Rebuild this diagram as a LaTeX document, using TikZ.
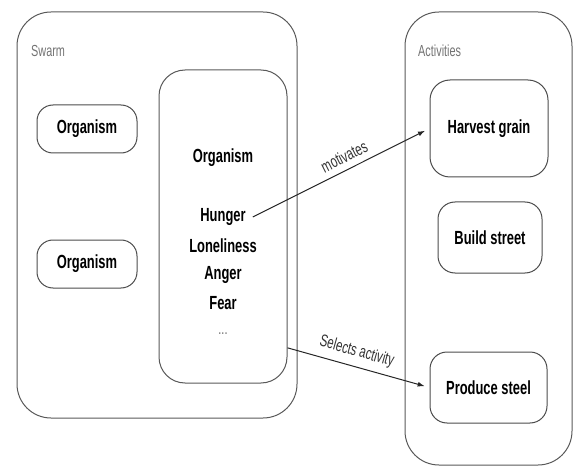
\documentclass[tikz,border=0pt]{standalone}
\usepackage{fontspec}
\setmainfont{Liberation Sans}[FakeStretch=0.68]
\usetikzlibrary{arrows, arrows.meta}

\tikzset{
  group/.style={draw=black!65, line width=1pt, rounded corners=34pt, inner sep=0pt},
  actbox/.style={draw=black!70, line width=1pt, rounded corners=20pt, inner sep=0pt,
    font=\fontsize{19}{21}\selectfont\bfseries},
  orgbox/.style={draw=black!70, line width=1pt, rounded corners=16pt, inner sep=0pt,
    font=\fontsize{19}{21}\selectfont\bfseries},
  need/.style={font=\fontsize{19}{21}\selectfont\bfseries, inner sep=1pt},
  grouplabel/.style={anchor=west, text=black!55, font=\fontsize{16}{18}\selectfont, inner sep=0pt},
  link/.style={draw=black!85, line width=1pt, -{Latex[length=7pt,width=5pt]}, shorten >=5pt},
  linklabel/.style={font=\fontsize{17}{19}\selectfont, text=black!80, sloped, above=3pt}
}

\begin{document}
\begin{tikzpicture}[x=1pt, y=-1pt]
\useasboundingbox (0,0) rectangle (576,468);
%\draw[step=20pt,gray,very thin] (0,0) grid (576,468); %background grid

% swarm side
\node[group, minimum width=280pt, minimum height=406pt] (swarm) at (157,215) {};
\node[grouplabel] (swarmlabel) at (31,51) {Swarm};

\node[orgbox, minimum width=100pt, minimum height=48pt] (orgA) at (87,129) {Organism};
\node[orgbox, minimum width=100pt, minimum height=48pt] (orgB) at (87,264) {Organism};

\node[group, rounded corners=26pt, minimum width=128pt, minimum height=313pt] (inner) at (223,226.5) {};
\node[need] (orgC)    at (223,158) {Organism};
\node[need] (hunger)  at (223,217) {Hunger};
\node[need] (lonely)  at (223,246) {Loneliness};
\node[need] (anger)   at (223,275) {Anger};
\node[need] (fear)    at (223,303) {Fear};
\node[need, font=\fontsize{16}{18}\selectfont, text=black!60] (more) at (223,334) {...};

% activities side
\node[group, minimum width=167pt, minimum height=453pt] (acts) at (488.5,238.5) {};
\node[grouplabel] (actslabel) at (418,51) {Activities};

\node[actbox, minimum width=118pt, minimum height=97pt] (harvest) at (489,128.5) {Harvest grain};
\node[actbox, rounded corners=17pt, minimum width=104pt, minimum height=71pt] (street) at (490,237.5) {Build street};
\node[actbox, rounded corners=17pt, minimum width=117pt, minimum height=71pt] (steel) at (488.5,387.5) {Produce steel};

% links
\draw[link] (hunger.east) ++(6pt,0) coordinate (hungerout) -- (harvest.west)
  node[linklabel, pos=0.55] {motivates};
\draw[link] (inner.-62) -- (steel.west)
  node[linklabel, pos=0.46] {Selects activity};

\end{tikzpicture}
\end{document}
